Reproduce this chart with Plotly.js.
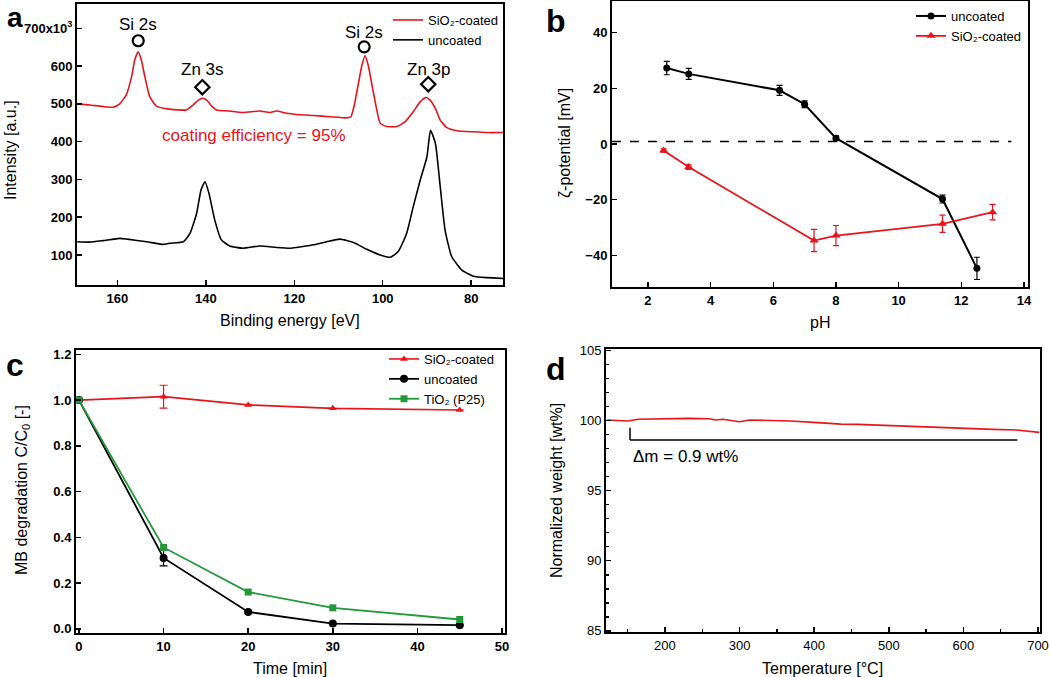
<!DOCTYPE html>
<html>
<head>
<meta charset="utf-8">
<script src="https://cdn.plot.ly/plotly-3.0.1.min.js"></script>
<style>
  html, body { margin: 0; padding: 0; background: #fff; }
  #graph { width: 1050px; height: 677px; }
</style>
</head>
<body>
<div id="graph"></div>
<script>
// Panel a - XPS spectra
const coatedBE = [169.1,166.3,163.3,161.0,159.5,158.0,156.8,156.1,155.3,154.6,153.8,152.7,151.2,148.2,144.4,142.9,141.7,140.8,139.8,138.7,137.6,134.6,131.6,127.8,125.5,124.0,121.7,119.5,115.7,111.9,108.1,107.2,106.5,105.5,104.7,104.0,103.3,102.5,101.5,100.6,99.1,96.8,94.9,93.1,91.5,90.2,89.3,88.1,87.0,85.5,83.2,79.5,76.4,72.8];
const coatedI = [500,497,493,491,500,524,572,616,638,616,572,519,494,486,484,497,510,515,510,494,484,481,477,481,477,481,475,472,469,466,463,466,493,554,603,627,603,554,493,449,440,440,453,479,506,517,510,488,457,437,429,426,424,424];
const uncoatedBE = [169.1,166.3,163.3,159.5,157.8,153.4,149.7,148.2,145.1,143.6,142.1,141.1,140.2,139.3,138.0,136.5,134.6,131.6,127.8,124.0,121.0,119.5,115.7,112.7,109.7,106.6,103.6,100.6,98.3,96.5,94.6,93.1,91.5,90.0,89.2,88.1,87.0,85.9,84.4,82.1,79.5,76.4,72.8];
const uncoatedI = [135,134,138,144,142,135,128,131,135,157,210,272,294,263,193,140,124,118,124,120,118,120,127,135,142,133,115,100,94,109,157,228,299,360,430,396,281,166,96,60,44,40,38];
const peakLabels = ['Si 2s', 'Zn 3s', 'Si 2s', 'Zn 3p'];
const peakBE = [155.3, 140.8, 104.2, 89.7];
const peakMarkI = [667, 544, 651, 552];
const peakLabelI = [711, 590, 688, 590];
const peakSymbols = ['circle-open', 'diamond-open', 'circle-open', 'diamond-open'];

// Panel b - zeta potential
const uncPH = [2.6, 3.3, 6.2, 7.0, 8.0, 11.4, 12.5];
const uncZeta = [27.3, 25.2, 19.3, 14.3, 2.1, -19.8, -44.7];
const uncZetaErr = [2.4, 2.0, 1.8, 1.2, 0.8, 1.4, 4.0];
const coatPH = [2.5, 3.3, 7.3, 8.0, 11.4, 13.0];
const coatZeta = [-2.3, -8.3, -34.7, -32.9, -28.7, -24.5];
const coatZetaErr = [0.6, 0.8, 4.0, 3.6, 3.1, 2.8];

// Panel c - MB degradation
const timeMin = [0, 10, 20, 30, 45];
const coatedC = [1.0, 1.015, 0.979, 0.964, 0.957];
const coatedCErr = [0, 0.05, 0, 0, 0];
const uncoatedC = [1.0, 0.31, 0.074, 0.023, 0.016];
const uncoatedCErr = [0, 0.035, 0, 0, 0];
const tio2C = [1.0, 0.356, 0.161, 0.092, 0.041];

// Panel d - TGA
const tgaTemp = [122.5,150.5,164,200.4,232,259.2,268.3,277.3,295.4,300,313.6,349.8,368,399.6,435.8,458.4,503.7,549,594.4,639.7,671.3,701.7];
const tgaWeight = [100.05,99.98,100.1,100.14,100.17,100.14,100.05,100.1,100.0,99.93,100.05,100.0,99.98,99.88,99.76,99.74,99.64,99.55,99.43,99.38,99.34,99.17];

const RED = '#e8141c';
const GREEN = '#23993a';
const FONT = 'Liberation Sans, Arial, sans-serif';
const W = 1050, H = 677;

// pixel box -> paper domain
function dx(a, b) { return [a / W, b / W]; }
function dy(top, bottom) { return [1 - bottom / H, 1 - top / H]; }

function axis(domain, range, anchor, extra) {
  return Object.assign({
    domain: domain, range: range, anchor: anchor,
    showline: true, linewidth: 2, linecolor: 'black', mirror: true,
    ticks: 'inside', ticklen: 5, tickwidth: 1.5, tickcolor: 'black',
    showgrid: false, zeroline: false,
    tickfont: { family: FONT, size: 13, color: 'black', weight: 'bold' }
  }, extra || {});
}

const traces = [
  // a
  { x: coatedBE, y: coatedI, xaxis: 'x', yaxis: 'y', mode: 'lines', name: 'SiO₂-coated',
    line: { color: RED, width: 1.6, shape: 'spline', smoothing: 0.5 }, legend: 'legend' },
  { x: uncoatedBE, y: uncoatedI, xaxis: 'x', yaxis: 'y', mode: 'lines', name: 'uncoated',
    line: { color: 'black', width: 1.6, shape: 'spline', smoothing: 0.5 }, legend: 'legend' },
  { x: peakBE, y: peakMarkI, xaxis: 'x', yaxis: 'y', mode: 'markers', showlegend: false,
    marker: { symbol: peakSymbols, size: 11, color: 'black', line: { color: 'black', width: 2.2 } } },
  // b
  { x: uncPH, y: uncZeta, xaxis: 'x2', yaxis: 'y2', mode: 'lines+markers', name: 'uncoated',
    line: { color: 'black', width: 2 }, marker: { symbol: 'circle', size: 7, color: 'black' },
    error_y: { type: 'data', array: uncZetaErr, color: 'black', thickness: 1.2, width: 3 }, legend: 'legend2' },
  { x: coatPH, y: coatZeta, xaxis: 'x2', yaxis: 'y2', mode: 'lines+markers', name: 'SiO₂-coated',
    line: { color: RED, width: 1.8 }, marker: { symbol: 'triangle-up', size: 8, color: RED },
    error_y: { type: 'data', array: coatZetaErr, color: RED, thickness: 1.2, width: 3 }, legend: 'legend2' },
  // c
  { x: timeMin, y: coatedC, xaxis: 'x3', yaxis: 'y3', mode: 'lines+markers', name: 'SiO₂-coated',
    line: { color: RED, width: 1.6 }, marker: { symbol: 'triangle-up', size: 7, color: RED },
    error_y: { type: 'data', array: coatedCErr, color: RED, thickness: 1.2, width: 4 }, legend: 'legend3' },
  { x: timeMin, y: uncoatedC, xaxis: 'x3', yaxis: 'y3', mode: 'lines+markers', name: 'uncoated',
    line: { color: 'black', width: 1.8 }, marker: { symbol: 'circle', size: 8, color: 'black' },
    error_y: { type: 'data', array: uncoatedCErr, color: 'black', thickness: 1.2, width: 4 }, legend: 'legend3' },
  { x: timeMin, y: tio2C, xaxis: 'x3', yaxis: 'y3', mode: 'lines+markers', name: 'TiO₂ (P25)',
    line: { color: GREEN, width: 1.8 }, marker: { symbol: 'square', size: 7, color: GREEN }, legend: 'legend3' },
  // d
  { x: tgaTemp, y: tgaWeight, xaxis: 'x4', yaxis: 'y4', mode: 'lines', showlegend: false,
    line: { color: RED, width: 1.6 } }
];

function legendBox(xpx, ypx) {
  return { x: xpx / W, y: 1 - ypx / H, xanchor: 'left', yanchor: 'top', bgcolor: 'rgba(0,0,0,0)',
    borderwidth: 0, font: { family: FONT, size: 13, color: 'black' }, tracegroupgap: 0, itemwidth: 30 };
}

function title(text, xpx, ypx, angle, size) {
  return { text: text, x: xpx / W, y: 1 - ypx / H, xref: 'paper', yref: 'paper', showarrow: false,
    textangle: angle || 0, xanchor: 'center', yanchor: 'middle',
    font: { family: FONT, size: size || 16, color: 'black' } };
}

function panelLabel(text, xpx, ypx, size) {
  return { text: text, x: xpx / W, y: 1 - ypx / H, xref: 'paper', yref: 'paper', showarrow: false,
    xanchor: 'center', yanchor: 'top', font: { family: FONT, size: size || 32, color: 'black', weight: 'bold' } };
}

const annotations = [
  panelLabel('a', 15, 0, 28), panelLabel('b', 556, 1), panelLabel('c', 15, 345), panelLabel('d', 556, 349),
  title('Intensity [a.u.]', 11, 150, -90),
  title('Binding energy [eV]', 290, 320),
  title('ζ-potential [mV]', 565, 143, -90),
  title('pH', 820, 322),
  title('MB degradation C/C<sub>0</sub> [-]', 22, 490, -90),
  title('Time [min]', 290, 668),
  title('Normalized weight [wt%]', 556, 491, -90),
  title('Temperature [°C]', 822, 668),
  { text: 'coating efficiency = 95%', x: 129.1, y: 415, xref: 'x', yref: 'y', showarrow: false,
    font: { family: FONT, size: 17, color: RED } },
  { text: 'Δm = 0.9 wt%', x: 155, y: 97.43, xref: 'x4', yref: 'y4', xanchor: 'left', showarrow: false,
    font: { family: FONT, size: 17, color: 'black' } }
];
peakLabels.forEach(function (t, i) {
  annotations.push({ text: t, x: peakBE[i], y: peakLabelI[i], xref: 'x', yref: 'y', showarrow: false,
    font: { family: FONT, size: 17, color: 'black' } });
});

const shapes = [
  { type: 'line', xref: 'x2', yref: 'y2', x0: 0.85, x1: 13.6, y0: 0.9, y1: 0.9,
    line: { color: 'black', width: 1.5, dash: 'dash' } },
  { type: 'line', xref: 'x4', yref: 'y4', x0: 153.2, x1: 153.2, y0: 99.5, y1: 98.62,
    line: { color: 'black', width: 1.5 } },
  { type: 'line', xref: 'x4', yref: 'y4', x0: 153.2, x1: 672.3, y0: 98.62, y1: 98.62,
    line: { color: 'black', width: 1.5 } }
];

const layout = {
  width: W, height: H,
  margin: { l: 0, r: 0, t: 0, b: 0 },
  paper_bgcolor: 'white', plot_bgcolor: 'white',
  font: { family: FONT, color: 'black' },
  showlegend: true,
  xaxis: axis(dx(77, 503), [169.15, 72.8], 'y', { tickvals: [160, 140, 120, 100, 80] }),
  yaxis: axis(dy(3.5, 285), [20.6, 765.6], 'x', {
    tickvals: [100, 200, 300, 400, 500, 600, 700],
    ticktext: ['100', '200', '300', '400', '500', '600', '700x10<sup>3</sup>'] }),
  xaxis2: axis(dx(612, 1028), [0.852, 14.13], 'y2', { tickvals: [2, 4, 6, 8, 10, 12, 14] }),
  yaxis2: axis(dy(1, 287), [-51.4, 51.4], 'x2', { tickvals: [-40, -20, 0, 20, 40] }),
  xaxis3: axis(dx(76, 505), [-0.35, 50.35], 'y3', { tickvals: [0, 10, 20, 30, 40, 50] }),
  yaxis3: axis(dy(350, 633), [-0.018, 1.219], 'x3', { tickvals: [0, 0.2, 0.4, 0.6, 0.8, 1.0, 1.2], tickformat: '.1f' }),
  xaxis4: axis(dx(606, 1040), [121, 702.7], 'y4', {
    tickvals: [200, 300, 400, 500, 600, 700],
    tickfont: { family: FONT, size: 13, color: 'black' },
    minor: { dtick: 50, ticks: 'inside', ticklen: 3, tickcolor: 'black' } }),
  yaxis4: axis(dy(349.3, 632.3), [84.89, 105.1], 'x4', {
    tickvals: [85, 90, 95, 100, 105],
    tickfont: { family: FONT, size: 13, color: 'black' },
    minor: { dtick: 1, ticks: 'inside', ticklen: 3, tickcolor: 'black' } }),
  legend: legendBox(388, 5),
  legend2: legendBox(911, 1),
  legend3: legendBox(384, 344),
  annotations: annotations,
  shapes: shapes
};

Plotly.newPlot('graph', traces, layout, { displayModeBar: false, staticPlot: true });
</script>
</body>
</html>
